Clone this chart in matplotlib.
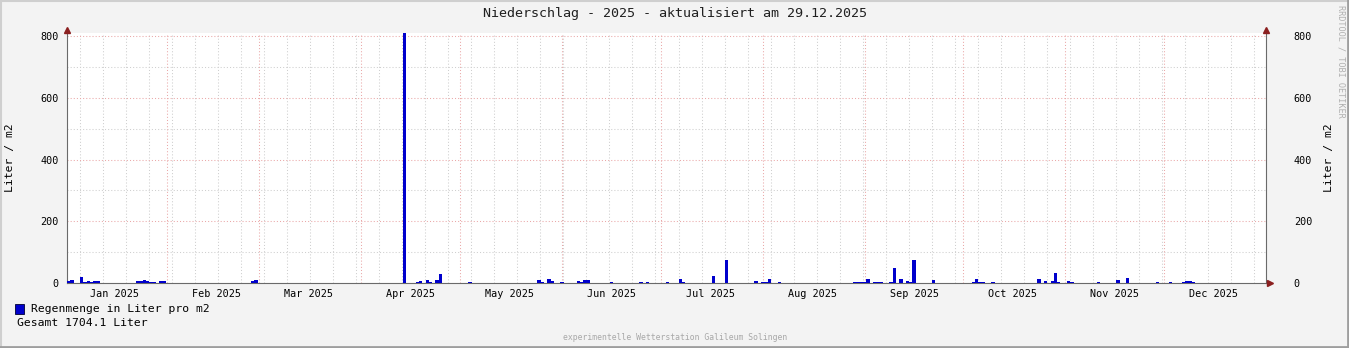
import numpy as np
import matplotlib
matplotlib.use("Agg")
import matplotlib.pyplot as plt
import matplotlib.transforms as mtransforms
from matplotlib.lines import Line2D
from matplotlib.patches import Rectangle

W, H = 1349, 348

# rain per day, day of year (1 = 1 Jan 2025), litre per m2
rain_day = [1, 2, 5, 6, 7, 8, 9, 10, 11, 14, 15, 22, 23, 24, 25, 26, 27, 29, 30,
            36, 37, 41, 42, 55, 57, 58,
            82, 83, 103, 105, 106, 107, 108, 110, 111, 112, 113, 114, 123, 124,
            142, 144, 145, 147, 148, 151, 156, 157, 158, 159, 162, 166, 174, 175,
            177, 178, 183, 187, 188, 189, 196, 197, 200, 201, 202, 203, 204, 205,
            206, 207, 210, 212, 213, 214, 215, 216, 217, 218,
            235, 240, 241, 242, 243, 244, 246, 247, 248, 251, 252, 254, 256, 257,
            258, 260, 264, 268, 269, 276, 277, 278, 279, 280, 281, 282, 286, 287,
            289, 290, 293, 294, 295, 296, 298, 300, 301, 302, 305, 306, 312, 313,
            314, 315, 320, 323, 324, 326, 327, 328, 329, 332, 336, 337, 338, 340,
            341, 342, 343, 344, 345, 346, 347, 348, 349]
rain_val = [6, 10, 20, 4, 7, 4, 7, 7, 1, 1, 1, 7, 7, 10, 7, 4, 4, 7, 7,
            1, 1, 1, 1, 1, 7, 10,
            1, 1, 810, 1, 1, 4, 7, 10, 4, 1, 10, 30, 4, 1,
            1, 10, 4, 13, 7, 4, 7, 4, 10, 10, 1, 4, 1, 4,
            4, 1, 4, 13, 4, 1, 1, 24, 1, 76, 1, 1, 1, 1,
            1, 1, 7, 4, 4, 13, 1, 1, 4, 1,
            1, 4, 4, 4, 4, 14, 4, 4, 4, 4, 50, 14, 7, 4,
            76, 1, 10, 1, 1, 4, 14, 4, 4, 1, 1, 4, 1, 1,
            1, 1, 1, 1, 1, 14, 7, 7, 33, 4, 7, 4, 1, 1,
            4, 1, 10, 17, 1, 1, 1, 1, 1, 4, 4, 1, 1, 4,
            7, 7, 4, 1, 1, 1, 1, 1, 1]

month_names = ["Jan", "Feb", "Mar", "Apr", "May", "Jun",
               "Jul", "Aug", "Sep", "Oct", "Nov", "Dec"]
month_start = [0, 31, 59, 90, 120, 151, 181, 212, 243, 273, 304, 334]
y_major = [0, 200, 400, 600, 800]
y_minor = [100, 300, 500, 700]

plt.rcParams["font.family"] = "DejaVu Sans Mono"

fig = plt.figure(figsize=(W / 100, H / 100), dpi=100, facecolor="#f3f3f3")
ax = fig.add_axes([67 / W, (H - 283) / H, (1266 - 67) / W, 250 / H])
ax.set_facecolor("white")
ax.set_xlim(0.5, 365)
ax.set_ylim(0, 810)

dots = (0, (1, 2))
for wk in np.arange(4.4, 365, 7):
    ax.axvline(wk, color="#cfcfcf", lw=0.75, ls=dots, zorder=1)
for y in y_minor:
    ax.axhline(y, color="#cfcfcf", lw=0.75, ls=dots, zorder=1)
for m in month_start[1:]:
    ax.axvline(m, color="#eaa8a8", lw=0.75, ls=dots, zorder=1)
for y in y_major[1:]:
    ax.axhline(y, color="#eaa8a8", lw=0.75, ls=dots, zorder=1)

ax.bar(rain_day, rain_val, width=1.0, color="#0000cc", linewidth=0,
       antialiased=False, zorder=3)

ax.spines["top"].set_visible(False)
for s in ["left", "bottom", "right"]:
    ax.spines[s].set_color("#6a6a6a")
    ax.spines[s].set_linewidth(0.8)

ax.set_xticks([m + 15 for m in month_start], [n + " 2025" for n in month_names])
ax.tick_params(axis="x", length=0, pad=4, labelsize=7.3)
ax.set_yticks(y_major)
ax.tick_params(axis="y", length=0, pad=6, labelsize=7.3)

ax2 = ax.twinx()
ax2.set_ylim(0, 810)
ax2.set_yticks(y_major)
ax2.tick_params(axis="y", length=0, pad=20, labelsize=7.3)
for s in ax2.spines.values():
    s.set_visible(False)

# arrows at axis ends
red = "#8b2020"
up = mtransforms.offset_copy(ax.transAxes, fig=fig, x=0, y=3, units="dots")
ax.plot([0, 1], [1, 1], ls="none", marker="^", ms=4, color=red,
        transform=up, clip_on=False, zorder=5)
right = mtransforms.offset_copy(ax.transAxes, fig=fig, x=4, y=0, units="dots")
ax.plot([1], [0], ls="none", marker=">", ms=4, color=red,
        transform=right, clip_on=False, zorder=5)

fig.text(675 / W, 1 - 13 / H, "Niederschlag - 2025 - aktualisiert am 29.12.2025",
         ha="center", va="center", fontsize=9.6, color="#202020")
fig.text(10 / W, 1 - 158 / H, "Liter / m2", rotation=90, ha="center",
         va="center", fontsize=8.2)
fig.text(1329 / W, 1 - 158 / H, "Liter / m2", rotation=90, ha="center",
         va="center", fontsize=8.2)
fig.text(1341 / W, 1 - 5 / H, "RRDTOOL / TOBI OETIKER", rotation=270,
         ha="center", va="top", fontsize=6.1, color="#b0b0b0")

fig.patches.append(Rectangle((15 / W, 1 - 314 / H), 9 / W, 10 / H,
                             transform=fig.transFigure, facecolor="#0000cc",
                             edgecolor="#000033", lw=0.6))
fig.text(31 / W, 1 - 309 / H, "Regenmenge in Liter pro m2", ha="left",
         va="center", fontsize=8.2)
fig.text(17 / W, 1 - 323 / H, "Gesamt 1704.1 Liter", ha="left",
         va="center", fontsize=8.2)
fig.text(675 / W, 1 - 337 / H, "experimentelle Wetterstation Galileum Solingen",
         ha="center", va="center", fontsize=5.9, color="#a8a8a8")

# 3d frame of the image
fig.lines.append(Line2D([0, 1], [1 - 1 / H, 1 - 1 / H], transform=fig.transFigure,
                        color="#cfcfcf", lw=1.5))
fig.lines.append(Line2D([1 / W, 1 / W], [0, 1], transform=fig.transFigure,
                        color="#cfcfcf", lw=1.5))
fig.lines.append(Line2D([0, 1], [1.2 / H, 1.2 / H], transform=fig.transFigure,
                        color="#9e9e9e", lw=2))
fig.lines.append(Line2D([1 - 1.2 / W, 1 - 1.2 / W], [0, 1], transform=fig.transFigure,
                        color="#9e9e9e", lw=2))

fig.savefig("out.png", dpi=100, facecolor=fig.get_facecolor())
